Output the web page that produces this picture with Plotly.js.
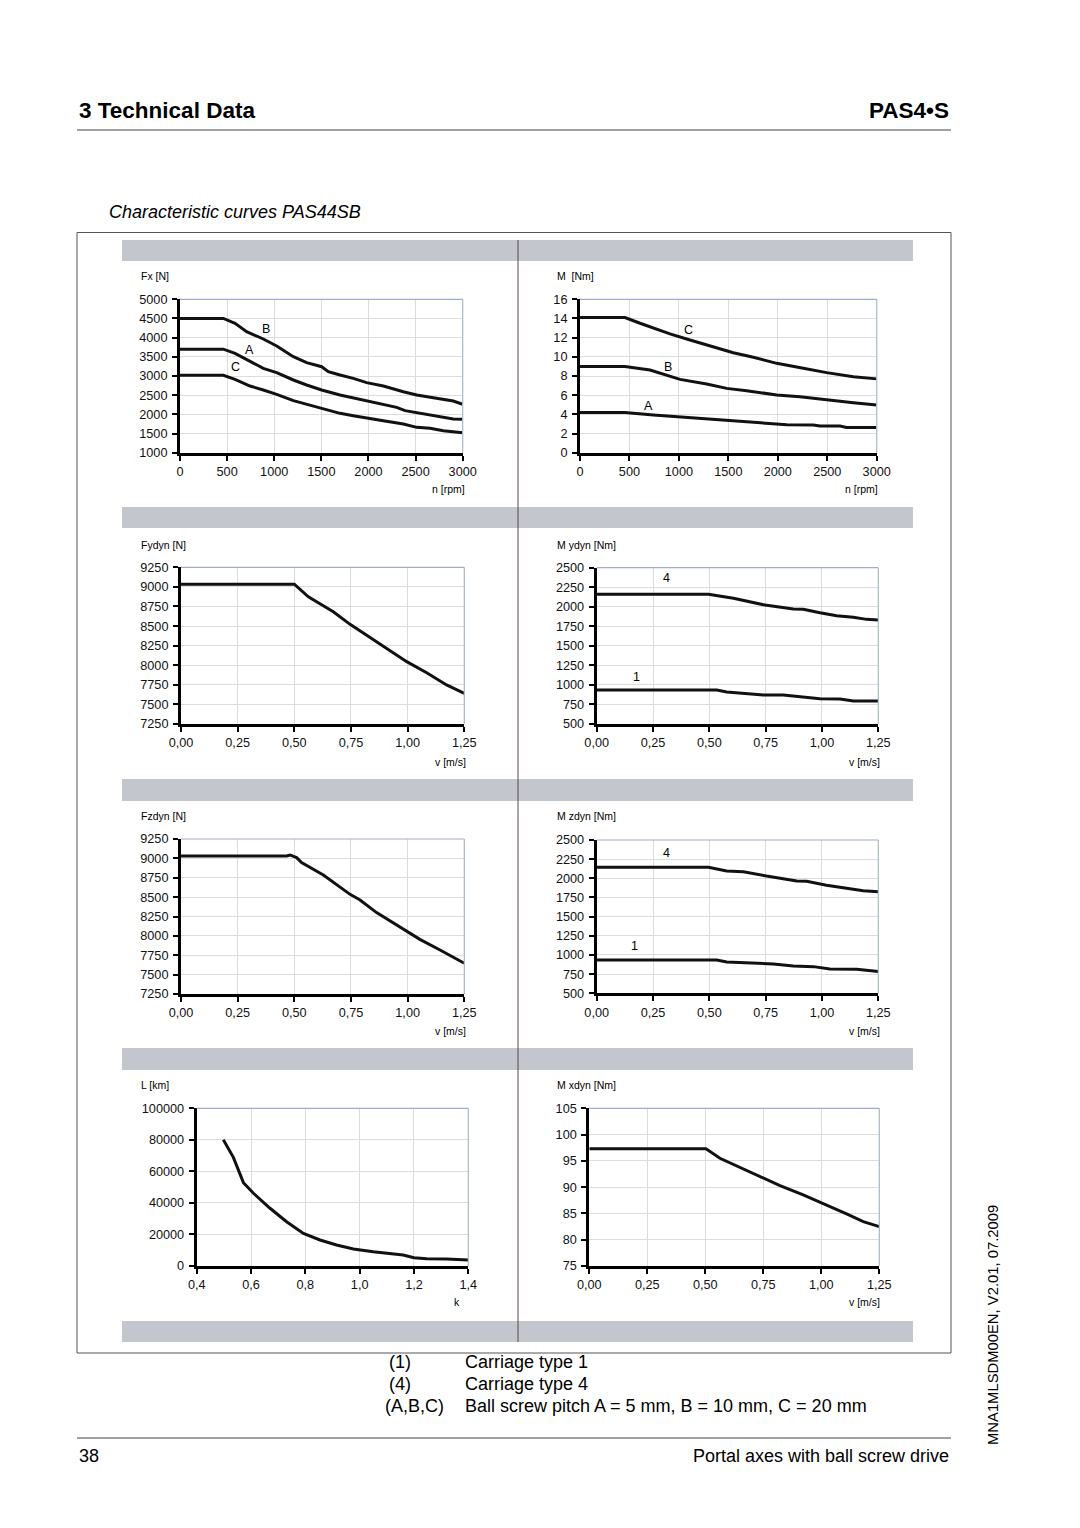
<!DOCTYPE html>
<html>
<head>
<meta charset="utf-8">
<script src="https://cdn.plot.ly/plotly-3.0.1.min.js"></script>
<style>
html,body{margin:0;padding:0;background:#fff;}
#chart{width:1080px;height:1528px;}
</style>
</head>
<body>
<div id="chart"></div>
<script>
// ---------- DATA ----------
// Fx [N] vs n [rpm]
const fxB_n = [0,460,584,707,884,1026,1203,1344,1503,1574,1698,1839,1981,2158,2370,2512,2688,2900,3000];
const fxB   = [4500,4500,4374,4157,3965,3783,3504,3348,3243,3113,3026,2939,2826,2739,2591,2504,2435,2348,2261];
const fxA_n = [0,460,584,743,884,1026,1203,1344,1503,1698,1981,2122,2299,2388,2547,2723,2900,3000];
const fxA   = [3700,3700,3591,3374,3200,3087,2896,2765,2635,2504,2357,2270,2183,2096,2026,1957,1878,1870];
const fxC_n = [0,460,584,743,884,1026,1203,1344,1503,1698,1839,1981,2158,2370,2512,2653,2794,3000];
const fxC   = [3020,3020,2913,2739,2635,2522,2357,2261,2157,2026,1965,1913,1835,1748,1661,1635,1574,1522];
// M [Nm] vs n [rpm]
const mC_n = [0,455,607,910,1112,1348,1550,1753,1989,2258,2494,2764,3000];
const mC   = [14.1,14.1,13.5,12.4,11.76,11.0,10.43,9.95,9.32,8.8,8.35,7.93,7.7];
const mB_n = [0,455,708,1011,1281,1483,1685,1989,2224,2494,2764,3000];
const mB   = [9.0,9.0,8.63,7.65,7.17,6.71,6.47,6.02,5.84,5.5,5.22,4.97];
const mA_n = [0,455,742,1079,1416,1685,1955,2090,2359,2427,2629,2696,3000];
const mA   = [4.2,4.2,3.93,3.69,3.41,3.2,3.06,2.92,2.89,2.78,2.78,2.64,2.64];
// Fydyn [N] vs v [m/s]
const fy_v = [0,0.5,0.562,0.672,0.746,0.849,0.922,0.996,1.084,1.172,1.25];
const fy   = [9035,9035,8873,8682,8522,8322,8182,8046,7905,7748,7642];
// Mydyn [Nm] vs v [m/s]
const my4_v = [0,0.496,0.607,0.747,0.873,0.917,0.991,1.065,1.139,1.198,1.25];
const my4   = [2160,2160,2108,2022,1971,1967,1924,1886,1865,1839,1830];
const my1_v = [0,0.533,0.577,0.666,0.74,0.828,0.917,0.991,1.08,1.139,1.25];
const my1   = [935,935,909,892,871,871,850,824,820,794,794];
// Fzdyn [N] vs v [m/s]
const fz_v = [0,0.466,0.481,0.51,0.532,0.628,0.746,0.79,0.863,0.951,1.054,1.143,1.25];
const fz   = [9030,9030,9044,9010,8945,8786,8536,8463,8300,8140,7955,7818,7646];
// Mzdyn [Nm] vs v [m/s]
const mz4_v = [0,0.496,0.577,0.651,0.754,0.888,0.932,1.02,1.109,1.183,1.25];
const mz4   = [2145,2145,2096,2087,2030,1965,1961,1909,1870,1839,1826];
const mz1_v = [0,0.533,0.577,0.666,0.725,0.784,0.873,0.962,1.035,1.154,1.25];
const mz1   = [935,935,909,900,891,883,857,848,817,813,783];
// L [km] vs k
const l_k  = [0.498,0.535,0.572,0.609,0.67,0.731,0.793,0.854,0.915,0.977,1.05,1.1,1.16,1.2,1.247,1.32,1.4];
const l_km = [80000,68900,52850,46100,36600,28100,20700,16500,13300,10800,9100,8000,7000,5300,4650,4440,3800];
// Mxdyn [Nm] vs v [m/s]
const mx_v = [0,0.503,0.563,0.635,0.75,0.822,0.922,1.023,1.109,1.181,1.25];
const mx   = [97.3,97.3,95.5,94.03,91.68,90.29,88.51,86.61,84.9,83.44,82.49];

// ---------- TICKS ----------
const nTicks = [0,500,1000,1500,2000,2500,3000];
const nLabels = ['0','500','1000','1500','2000','2500','3000'];
const fxTicks = [1000,1500,2000,2500,3000,3500,4000,4500,5000];
const fxLabels = ['1000','1500','2000','2500','3000','3500','4000','4500','5000'];
const mTicks = [0,2,4,6,8,10,12,14,16];
const mLabels = ['0','2','4','6','8','10','12','14','16'];
const vTicks = [0,0.25,0.5,0.75,1,1.25];
const vLabels = ['0,00','0,25','0,50','0,75','1,00','1,25'];
const fdynTicks = [7250,7500,7750,8000,8250,8500,8750,9000,9250];
const fdynLabels = ['7250','7500','7750','8000','8250','8500','8750','9000','9250'];
const mdynTicks = [500,750,1000,1250,1500,1750,2000,2250,2500];
const mdynLabels = ['500','750','1000','1250','1500','1750','2000','2250','2500'];
const kTicks = [0.4,0.6,0.8,1.0,1.2,1.4];
const kLabels = ['0,4','0,6','0,8','1,0','1,2','1,4'];
const lTicks = [0,20000,40000,60000,80000,100000];
const lLabels = ['0','20000','40000','60000','80000','100000'];
const mxTicks = [75,80,85,90,95,100,105];
const mxLabels = ['75','80','85','90','95','100','105'];

// ---------- LAYOUT HELPERS ----------
const W = 1080, H = 1528;
const FONT = 'Liberation Sans, Arial, sans-serif';
const px = x => x / W;
const py = y => 1 - y / H;
const xd = (a, b) => [px(a), px(b)];
const yd = (top, bot) => [py(bot), py(top)];

function axis(domain, range, tv, tt, anchor, isX) {
  return {
    domain: domain, range: range, anchor: anchor,
    tickmode: 'array', tickvals: tv, ticktext: tt,
    showline: true, linecolor: '#000', linewidth: 3,
    ticks: 'outside', ticklen: 5, tickwidth: 2, tickcolor: '#000',
    ticklabelstandoff: isX ? 0 : 2,
    showgrid: true, gridcolor: '#dcdcdc', gridwidth: 1,
    zeroline: false, fixedrange: true,
    tickfont: {family: FONT, size: 12.7, color: '#111'}
  };
}

const line = (x, y, xa, ya) => ({
  type: 'scatter', mode: 'lines', x: x, y: y, xaxis: xa, yaxis: ya,
  line: {color: '#111', width: 3}, hoverinfo: 'skip', showlegend: false
});

const traces = [
  line(fxB_n, fxB, 'x', 'y'), line(fxA_n, fxA, 'x', 'y'), line(fxC_n, fxC, 'x', 'y'),
  line(mC_n, mC, 'x2', 'y2'), line(mB_n, mB, 'x2', 'y2'), line(mA_n, mA, 'x2', 'y2'),
  line(fy_v, fy, 'x3', 'y3'),
  line(my4_v, my4, 'x4', 'y4'), line(my1_v, my1, 'x4', 'y4'),
  line(fz_v, fz, 'x5', 'y5'),
  line(mz4_v, mz4, 'x6', 'y6'), line(mz1_v, mz1, 'x6', 'y6'),
  line(l_k, l_km, 'x7', 'y7'),
  line(mx_v, mx, 'x8', 'y8')
];

const layout = {
  width: W, height: H,
  margin: {l: 0, r: 0, t: 0, b: 0},
  paper_bgcolor: '#fff', plot_bgcolor: '#fff',
  showlegend: false,
  font: {family: FONT, color: '#000'},
  xaxis:  axis(xd(180, 462.7), [0, 3000], nTicks, nLabels, 'y', true),
  yaxis:  axis(yd(299.3, 452.7), [1000, 5000], fxTicks, fxLabels, 'x', false),
  xaxis2: axis(xd(580, 876.7), [0, 3000], nTicks, nLabels, 'y2', true),
  yaxis2: axis(yd(299.3, 452.7), [0, 16], mTicks, mLabels, 'x2', false),
  xaxis3: axis(xd(181, 464.3), [0, 1.25], vTicks, vLabels, 'y3', true),
  yaxis3: axis(yd(567.3, 724), [7250, 9250], fdynTicks, fdynLabels, 'x3', false),
  xaxis4: axis(xd(596.7, 878.3), [0, 1.25], vTicks, vLabels, 'y4', true),
  yaxis4: axis(yd(567.7, 724), [500, 2500], mdynTicks, mdynLabels, 'x4', false),
  xaxis5: axis(xd(181, 464.3), [0, 1.25], vTicks, vLabels, 'y5', true),
  yaxis5: axis(yd(839, 994), [7250, 9250], fdynTicks, fdynLabels, 'x5', false),
  xaxis6: axis(xd(596.7, 878.3), [0, 1.25], vTicks, vLabels, 'y6', true),
  yaxis6: axis(yd(840, 993.3), [500, 2500], mdynTicks, mdynLabels, 'x6', false),
  xaxis7: axis(xd(196.7, 468.3), [0.4, 1.4], kTicks, kLabels, 'y7', true),
  yaxis7: axis(yd(1108.3, 1266), [0, 100000], lTicks, lLabels, 'x7', false),
  xaxis8: axis(xd(589.3, 879.3), [0, 1.25], vTicks, vLabels, 'y8', true),
  yaxis8: axis(yd(1108.3, 1266), [75, 105], mxTicks, mxLabels, 'x8', false),
  shapes: [],
  annotations: []
};

// page decorations
const S = layout.shapes;
S.push({type: 'line', xref: 'paper', yref: 'paper', x0: px(77), x1: px(951), y0: py(130), y1: py(130), line: {color: '#444', width: 1}});
S.push({type: 'rect', xref: 'paper', yref: 'paper', x0: px(77), x1: px(951), y0: py(232.5), y1: py(1353), line: {color: '#555', width: 1}, layer: 'below'});
[[240, 261], [507, 528], [779, 801], [1048, 1070], [1321, 1342]].forEach(b => {
  S.push({type: 'rect', xref: 'paper', yref: 'paper', x0: px(122), x1: px(913), y0: py(b[1]), y1: py(b[0]), fillcolor: '#c3c6cc', line: {width: 0}, layer: 'below'});
});
S.push({type: 'line', xref: 'paper', yref: 'paper', x0: px(518), x1: px(518), y0: py(240), y1: py(1342), line: {color: '#5a4848', width: 1}});
S.push({type: 'line', xref: 'paper', yref: 'paper', x0: px(77), x1: px(951), y0: py(1438), y1: py(1438), line: {color: '#444', width: 1}});
// plot frames (top and right edges)
['', '2', '3', '4', '5', '6', '7', '8'].forEach(n => {
  const xr = 'x' + n + ' domain', yr = 'y' + n + ' domain';
  S.push({type: 'line', xref: xr, yref: yr, x0: 0, x1: 1, y0: 1, y1: 1, line: {color: '#a4aacb', width: 1.2}});
  S.push({type: 'line', xref: xr, yref: yr, x0: 1, x1: 1, y0: 0, y1: 1, line: {color: '#a8b8c4', width: 1.2}});
});

const A = layout.annotations;
function txt(x, y, text, size, opts) {
  A.push(Object.assign({xref: 'paper', yref: 'paper', x: px(x), y: py(y), text: text, showarrow: false,
    xanchor: 'left', yanchor: 'middle', font: {family: FONT, size: size, color: '#000'}}, opts || {}));
}
txt(77, 110, '<b>3 Technical Data</b>', 22.5);
txt(951, 110, '<b>PAS4•S</b>', 22.5, {xanchor: 'right'});
txt(107, 212, '<i>Characteristic curves PAS44SB</i>', 18);
txt(387, 1362, '(1)', 18); txt(463, 1362, 'Carriage type 1', 18);
txt(387, 1384, '(4)', 18); txt(463, 1384, 'Carriage type 4', 18);
txt(383, 1406, '(A,B,C)', 18); txt(463, 1406, 'Ball screw pitch A = 5 mm, B = 10 mm, C = 20 mm', 18);
txt(77, 1456, '38', 18);
txt(951, 1456, 'Portal axes with ball screw drive', 18, {xanchor: 'right'});
txt(993, 1325, 'MNA1MLSDM00EN, V2.01, 07.2009', 14.8, {xanchor: 'center', textangle: -90});

// axis title labels (small)
const small = 10.5;
txt(139, 276, 'Fx [N]', small); txt(467, 489, 'n [rpm]', small, {xanchor: 'right'});
txt(555, 276, 'M  [Nm]', small); txt(880, 489, 'n [rpm]', small, {xanchor: 'right'});
txt(139, 545, 'Fydyn [N]', small); txt(468, 762, 'v [m/s]', small, {xanchor: 'right'});
txt(555, 545, 'M ydyn [Nm]', small); txt(882, 762, 'v [m/s]', small, {xanchor: 'right'});
txt(139, 816, 'Fzdyn [N]', small); txt(468, 1031, 'v [m/s]', small, {xanchor: 'right'});
txt(555, 816, 'M zdyn [Nm]', small); txt(882, 1031, 'v [m/s]', small, {xanchor: 'right'});
txt(139, 1085, 'L [km]', small); txt(457, 1302, 'k', small, {xanchor: 'center'});
txt(555, 1085, 'M xdyn [Nm]', small); txt(882, 1302, 'v [m/s]', small, {xanchor: 'right'});

// curve labels in data coordinates
function lbl(xa, ya, x, y, t) {
  A.push({xref: xa, yref: ya, x: x, y: y, text: t, showarrow: false, xanchor: 'center', yanchor: 'middle',
    font: {family: FONT, size: 12.5, color: '#000'}});
}
lbl('x', 'y', 913, 4217, 'B'); lbl('x', 'y', 736, 3678, 'A'); lbl('x', 'y', 594, 3226, 'C');
lbl('x2', 'y2', 1095, 12.8, 'C'); lbl('x2', 'y2', 893, 8.97, 'B'); lbl('x2', 'y2', 691, 4.9, 'A');
lbl('x4', 'y4', 0.311, 2364, '4'); lbl('x4', 'y4', 0.178, 1106, '1');
lbl('x6', 'y6', 0.311, 2326, '4'); lbl('x6', 'y6', 0.167, 1122, '1');

Plotly.newPlot('chart', traces, layout, {staticPlot: true, displayModeBar: false});
</script>
</body>
</html>
